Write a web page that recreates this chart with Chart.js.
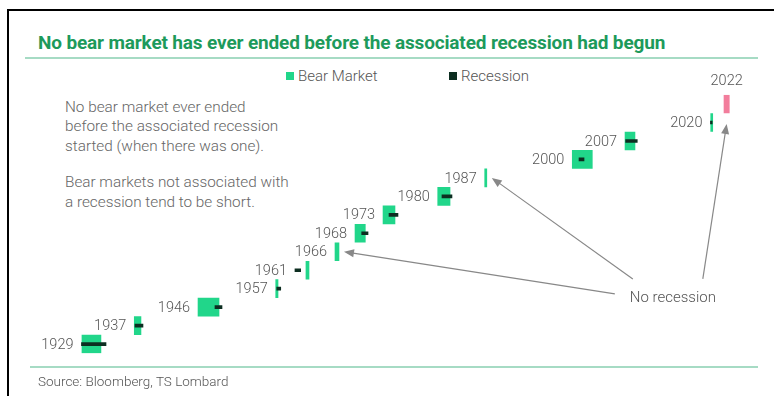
<!DOCTYPE html>
<html>
<head>
<meta charset="utf-8">
<script src="https://cdn.jsdelivr.net/npm/chart.js@4"></script>
<style>
  body { margin: 0; background: #fff; font-family: Roboto, "Noto Sans", sans-serif; }
  #wrap { position: relative; width: 774px; height: 396px; overflow: hidden; background: #fff; }
  #frame { position: absolute; left: 7px; top: 9px; right: -4px; bottom: -4px; border-top: 2px solid #000; border-left: 2px solid #000; }
  #title { position: absolute; left: 38px; top: 31px; font-size: 19px; font-weight: 700; color: #1d9a5b; letter-spacing: -0.15px; white-space: nowrap; }
  .rule { position: absolute; left: 25px; width: 733px; height: 2px; background: #a6dbc4; }
  #legend { position: absolute; top: 67px; left: 0; font-size: 15px; color: #555; font-weight: 300; }
  #legend span { position: absolute; white-space: nowrap; }
  #legend i { display: inline-block; width: 8px; height: 8px; margin-right: 4px; vertical-align: 1px; }
  #notes { position: absolute; left: 65px; top: 98px; font-size: 15.3px; line-height: 19.3px; color: #666; font-weight: 300; }
  #notes p { margin: 0 0 17.5px 0; }
  #source { position: absolute; left: 38px; top: 373px; font-size: 13.5px; color: #555; font-weight: 300; }
  canvas { position: absolute; left: 0; top: 0; }
</style>
</head>
<body>
<div id="wrap">
  <div id="frame"></div>
  <div id="title">No bear market has ever ended before the associated recession had begun</div>
  <div class="rule" style="top:57px"></div>
  <div id="legend"></div>
  <div id="notes">
    <p>No bear market ever ended<br>before the associated recession<br>started (when there was one).</p>
    <p>Bear markets not associated with<br>a recession tend to be short.</p>
  </div>
  <canvas id="chart" width="774" height="396"></canvas>
  <div class="rule" style="top:366px; left:30px; width:728px"></div>
  <div id="source">Source: Bloomberg, TS Lombard</div>
</div>
<script>
// one row per bear market, dates as decimal years
const years = ['1929', '1937', '1946', '1957', '1961', '1966', '1968', '1973', '1980', '1987', '2000', '2007', '2020', '2022'];
const bearStart = [1929.67, 1937.2, 1946.37, 1957.55, 1961.9, 1966.08, 1968.96, 1972.99, 1980.86, 1987.62, 2000.22, 2007.81, 2020.14, 2022.05];
const bearEnd = [1932.4, 1938.16, 1949.39, 1957.88, 1962.34, 1966.65, 1970.44, 1974.71, 1982.63, 1987.92, 2003.1, 2009.24, 2020.24, 2022.81];
const recessionStart = [1929.6, 1937.3, 1948.81, 1957.7, 1960.32, null, 1969.92, 1973.85, 1981.47, null, 2001.19, 2007.9, 2020.1, null];
const recessionEnd = [1933.13, 1938.45, 1949.82, 1958.27, 1961.14, null, 1970.83, 1975.14, 1982.91, null, 2001.91, 2009.57, 2020.35, null];
const noRecession = ['1966', '1987', '2022'];

const bearColor = '#21d68a';
const latestColor = '#f27d9c';
const recessionColor = '#0d2e21';

const bearData = years.map((y, i) => [bearStart[i], bearEnd[i]]);
const recessionData = years.map((y, i) => recessionStart[i] == null ? null : [recessionStart[i], recessionEnd[i]]);

// html legend
const legend = document.getElementById('legend');
[['Bear Market', bearColor, 286], ['Recession', recessionColor, 449]].forEach(l => {
    const s = document.createElement('span');
    s.style.left = l[2] + 'px';
    s.innerHTML = '<i style="background:' + l[1] + '"></i>' + l[0];
    legend.appendChild(s);
});

function arrow(ctx, x1, y1, x2, y2) {
    const a = Math.atan2(y2 - y1, x2 - x1);
    ctx.beginPath();
    ctx.moveTo(x1, y1);
    ctx.lineTo(x2 - 6 * Math.cos(a), y2 - 6 * Math.sin(a));
    ctx.stroke();
    ctx.beginPath();
    ctx.moveTo(x2, y2);
    ctx.lineTo(x2 - 10 * Math.cos(a) + 4 * Math.sin(a), y2 - 10 * Math.sin(a) - 4 * Math.cos(a));
    ctx.lineTo(x2 - 10 * Math.cos(a) - 4 * Math.sin(a), y2 - 10 * Math.sin(a) + 4 * Math.cos(a));
    ctx.closePath();
    ctx.fill();
}

const labelsPlugin = {
    id: 'rowLabels',
    afterDatasetsDraw(chart) {
        const ctx = chart.ctx;
        const bars = chart.getDatasetMeta(1).data;
        const xs = chart.scales.x, ys = chart.scales.y;
        ctx.save();
        ctx.fillStyle = '#555';
        ctx.font = '300 14.5px Roboto, sans-serif';
        ctx.textBaseline = 'middle';
        years.forEach((y, i) => {
            const b = bars[i];
            if (y === '2022') {
                ctx.textAlign = 'center';
                ctx.fillText(y, (b.x + b.base) / 2, b.y - 23);
                return;
            }
            let left = Math.min(b.x, b.base);
            if (recessionStart[i] != null) left = Math.min(left, xs.getPixelForValue(recessionStart[i]));
            ctx.textAlign = 'right';
            ctx.fillText(y, left - 8, b.y + 1);
        });

        // "No recession" callout
        const tx = xs.getPixelForValue(2008.5), ty = ys.getPixelForValue(2.5);
        ctx.textAlign = 'left';
        ctx.fillStyle = '#555';
        ctx.font = '300 15px Roboto, sans-serif';
        ctx.fillText('No recession', tx, ty);
        ctx.strokeStyle = '#888';
        ctx.fillStyle = '#888';
        ctx.lineWidth = 1.2;
        const starts = { '1966': [-15, -4], '1987': [3, -19], '2022': [73, -19] };
        noRecession.forEach(y => {
            const i = years.indexOf(y);
            const b = bars[i];
            let px, py;
            if (y === '2022') { px = (b.x + b.base) / 2; py = b.y + 20; }
            else { px = Math.max(b.x, b.base) + 5; py = b.y; }
            arrow(ctx, tx + starts[y][0], ty + starts[y][1], px, py);
        });
        ctx.restore();
    }
};

new Chart(document.getElementById('chart'), {
    type: 'bar',
    data: {
        labels: years,
        datasets: [{
            label: 'Recession',
            data: recessionData,
            backgroundColor: recessionColor,
            barThickness: 3,
            grouped: false,
            order: 0
        }, {
            label: 'Bear Market',
            data: bearData,
            backgroundColor: years.map(y => y === '2022' ? latestColor : bearColor),
            barThickness: 18,
            minBarLength: 2,
            grouped: false,
            order: 1
        }]
    },
    options: {
        indexAxis: 'y',
        responsive: false,
        animation: false,
        devicePixelRatio: 1,
        layout: { padding: { left: 49.5, right: 29.5, top: 94.8, bottom: 42.7 } },
        scales: {
            x: { type: 'linear', min: 1925, max: 2025, display: false },
            y: { reverse: true, display: false }
        },
        plugins: {
            legend: { display: false },
            tooltip: { enabled: false }
        }
    },
    plugins: [labelsPlugin]
});
</script>
</body>
</html>
